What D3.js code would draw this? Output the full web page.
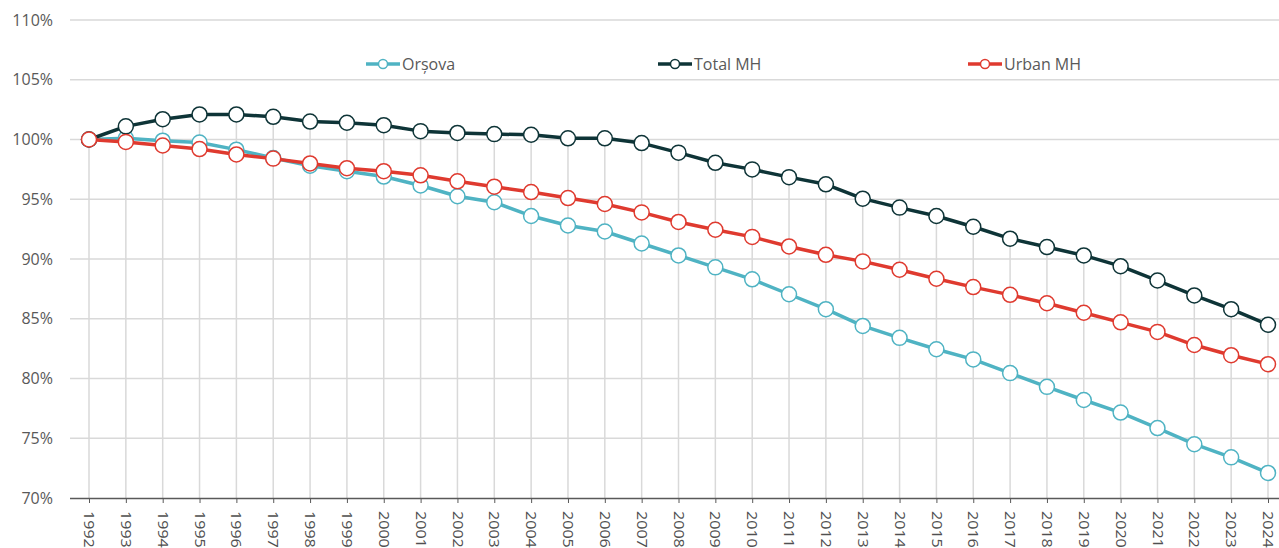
<!DOCTYPE html>
<html><head><meta charset="utf-8">
<script src="https://cdn.jsdelivr.net/npm/d3@7"></script>
<style>body{margin:0;background:#fff;overflow:hidden}svg{display:block;font-family:"Open Sans","Liberation Sans",sans-serif}</style>
</head><body><svg id="c" width="1279" height="548"></svg>
<script>
const years = d3.range(1992, 2025).map(String);
const orsova = [100,100.1,99.9,99.75,99.15,98.45,97.8,97.35,96.9,96.15,95.25,94.75,93.6,92.8,92.3,91.3,90.3,89.3,88.3,87.05,85.8,84.4,83.4,82.45,81.6,80.45,79.3,78.2,77.15,75.85,74.5,73.4,72.1];
const totalMH = [100,101.1,101.7,102.1,102.1,101.9,101.5,101.4,101.2,100.7,100.55,100.45,100.4,100.1,100.1,99.7,98.9,98.05,97.5,96.85,96.25,95.05,94.3,93.6,92.7,91.7,91.0,90.3,89.4,88.2,86.95,85.8,84.5];
const urbanMH = [100,99.8,99.5,99.2,98.75,98.4,98.0,97.6,97.35,97.0,96.5,96.05,95.6,95.1,94.6,93.9,93.1,92.45,91.85,91.05,90.35,89.8,89.1,88.35,87.65,87.0,86.3,85.5,84.7,83.9,82.8,81.95,81.2];
const yTicks = [70,75,80,85,90,95,100,105,110];
const seriesNames = ["Orșova","Total MH","Urban MH"];
const seriesColors = ["#4fb3c3","#0e3437","#df3a2f"];
const seriesData = [orsova,totalMH,urbanMH];

const svg = d3.select("#c");
const x = d3.scalePoint().domain(years).range([89,1268]);
const y = d3.scaleLinear().domain([70,110]).range([498,20]);
const left = 70, right = 1287;
const font = "'Open Sans','Liberation Sans',sans-serif";

// horizontal gridlines
svg.append("g").selectAll("line").data(yTicks.filter(t=>t>70)).join("line")
  .attr("x1",left).attr("x2",right).attr("y1",d=>y(d)).attr("y2",d=>y(d))
  .attr("stroke","#d9d9d9").attr("stroke-width",1.5);

// drop lines
svg.append("g").selectAll("line").data(years).join("line")
  .attr("x1",d=>x(d)).attr("x2",d=>x(d))
  .attr("y1",(d,i)=>y(Math.max(orsova[i],totalMH[i],urbanMH[i])))
  .attr("y2",y(70))
  .attr("stroke","#d9d9d9").attr("stroke-width",1.5);

// y axis labels
const ya = svg.append("g").attr("transform",`translate(${left},0)`)
  .call(d3.axisLeft(y).tickValues(yTicks).tickFormat(d=>d+"%").tickSize(0).tickPadding(17));
ya.select(".domain").remove();
ya.selectAll("text").attr("font-size",16).attr("fill","#595959").attr("font-family",font);

// x axis
const xa = svg.append("g").attr("transform",`translate(0,${y(70)})`)
  .call(d3.axisBottom(x).tickSize(5).tickPadding(0));
xa.select(".domain").attr("d",`M${left},0.5H${right}`).attr("stroke","#595959").attr("stroke-width",1.5);
xa.selectAll(".tick line").attr("stroke","#595959");
xa.selectAll("text").attr("font-size",14).attr("fill","#505050")
  .attr("font-family",font)
  .attr("transform","translate(-0.5,13) rotate(90) scale(1.15,1)").attr("text-anchor","start").attr("dy","0.35em").attr("y",0).attr("x",0);

// series lines
const line = d3.line().x((d,i)=>x(years[i])).y(d=>y(d));
seriesData.forEach((s,k)=>{
  const g = svg.append("g");
  g.append("path").datum(s).attr("d",line).attr("fill","none")
    .attr("stroke",seriesColors[k]).attr("stroke-width",3.5).attr("stroke-linejoin","round");
  g.selectAll("circle").data(s).join("circle")
    .attr("cx",(d,i)=>x(years[i])).attr("cy",d=>y(d)).attr("r",7.5)
    .attr("fill","#fff").attr("stroke",seriesColors[k]).attr("stroke-width",1.5);
});

// legend
const legX = [366,658,968];
const lg = svg.append("g");
seriesNames.forEach((n,k)=>{
  const g = lg.append("g").attr("transform",`translate(${legX[k]},64)`);
  g.append("line").attr("x1",0).attr("x2",34).attr("stroke",seriesColors[k]).attr("stroke-width",3.5);
  g.append("circle").attr("cx",17).attr("r",4.5).attr("fill","#fff").attr("stroke",seriesColors[k]).attr("stroke-width",1.5);
  g.append("text").attr("x",36).attr("dy","0.35em").attr("font-size",16).attr("fill","#595959").attr("font-family",font).text(n);
});
</script></body></html>
